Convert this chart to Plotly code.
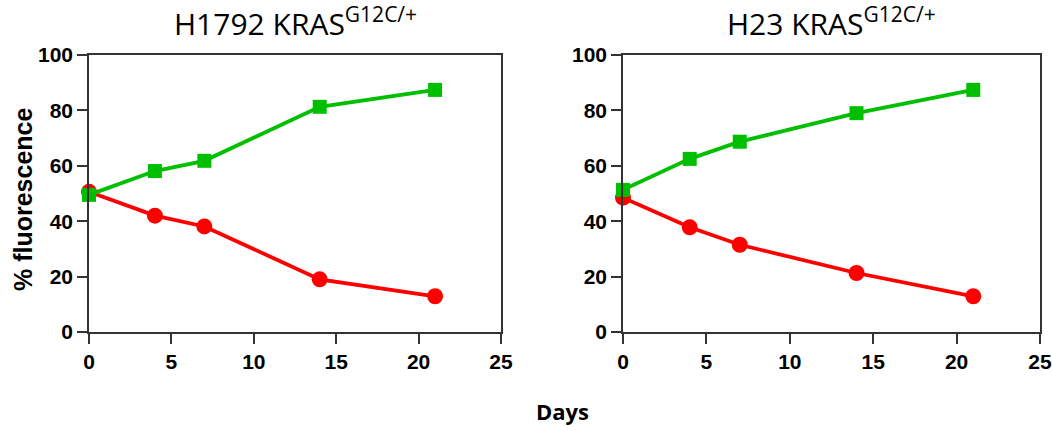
import plotly.graph_objects as go

days = [0, 4, 7, 14, 21]
h1792_red = [50.6, 42.0, 38.1, 19.0, 12.9]
h1792_green = [49.5, 58.1, 61.8, 81.3, 87.4]
h23_red = [48.5, 37.8, 31.5, 21.3, 12.9]
h23_green = [51.3, 62.5, 68.7, 79.0, 87.4]
titles = ["H1792 KRAS<sup>G12C/+</sup>", "H23 KRAS<sup>G12C/+</sup>"]
x_ticks = [0, 5, 10, 15, 20, 25]
y_ticks = [0, 20, 40, 60, 80, 100]

RED = "#ff0000"
GREEN = "#00bf00"
W, H = 1052, 427

fig = go.Figure()
panels = [(h1792_red, h1792_green, "x", "y"), (h23_red, h23_green, "x2", "y2")]
for red, green, xa, ya in panels:
    fig.add_trace(go.Scatter(x=days, y=red, mode="lines+markers", xaxis=xa, yaxis=ya,
                             line=dict(color=RED, width=3.8),
                             marker=dict(symbol="circle", size=16, color=RED),
                             cliponaxis=False, showlegend=False))
    fig.add_trace(go.Scatter(x=days, y=green, mode="lines+markers", xaxis=xa, yaxis=ya,
                             line=dict(color=GREEN, width=3.8),
                             marker=dict(symbol="square", size=14, color=GREEN),
                             cliponaxis=False, showlegend=False))

ydom = [(427 - 332) / H, (427 - 55) / H]
xdoms = [[89 / W, 501 / W], [623 / W, 1040 / W]]

axis_common = dict(showline=True, linecolor="#333333", linewidth=1.5, mirror=True,
                   ticks="outside", ticklen=10, tickwidth=1.5, tickcolor="#333333",
                   showgrid=False, zeroline=False, automargin=False,
                   tickfont=dict(family="Liberation Sans", size=21, color="black",
                                 weight="bold"))

layout = dict(width=W, height=H, margin=dict(l=0, r=0, t=0, b=0, autoexpand=False),
              plot_bgcolor="white", paper_bgcolor="white", showlegend=False)
for i, suffix in enumerate(["", "2"]):
    layout["xaxis" + suffix] = dict(axis_common, domain=xdoms[i], range=[0, 25],
                                    tickvals=x_ticks, anchor="y" + suffix)
    layout["yaxis" + suffix] = dict(axis_common, domain=ydom, range=[0, 100],
                                    tickvals=y_ticks, anchor="x" + suffix)
fig.update_layout(**layout)

annotations = []
for i, t in enumerate(titles):
    cx = (xdoms[i][0] + xdoms[i][1]) / 2
    annotations.append(dict(text=t, x=cx, y=1 - 46 / H, xref="paper", yref="paper",
                            xanchor="center", yanchor="bottom", showarrow=False,
                            font=dict(family="Open Sans", size=30, color="black")))
annotations.append(dict(text="<b>% fluorescence</b>", x=23 / W, y=(427 - 199) / H,
                        xref="paper", yref="paper", textangle=-90, showarrow=False,
                        xanchor="center", yanchor="middle",
                        font=dict(family="Liberation Sans", size=25, color="black")))
annotations.append(dict(text="<b>Days</b>", x=562 / W, y=(427 - 411) / H,
                        xref="paper", yref="paper", showarrow=False,
                        xanchor="center", yanchor="middle",
                        font=dict(family="Open Sans", size=22, color="black")))
fig.update_layout(annotations=annotations)

fig.write_html("out.html")
